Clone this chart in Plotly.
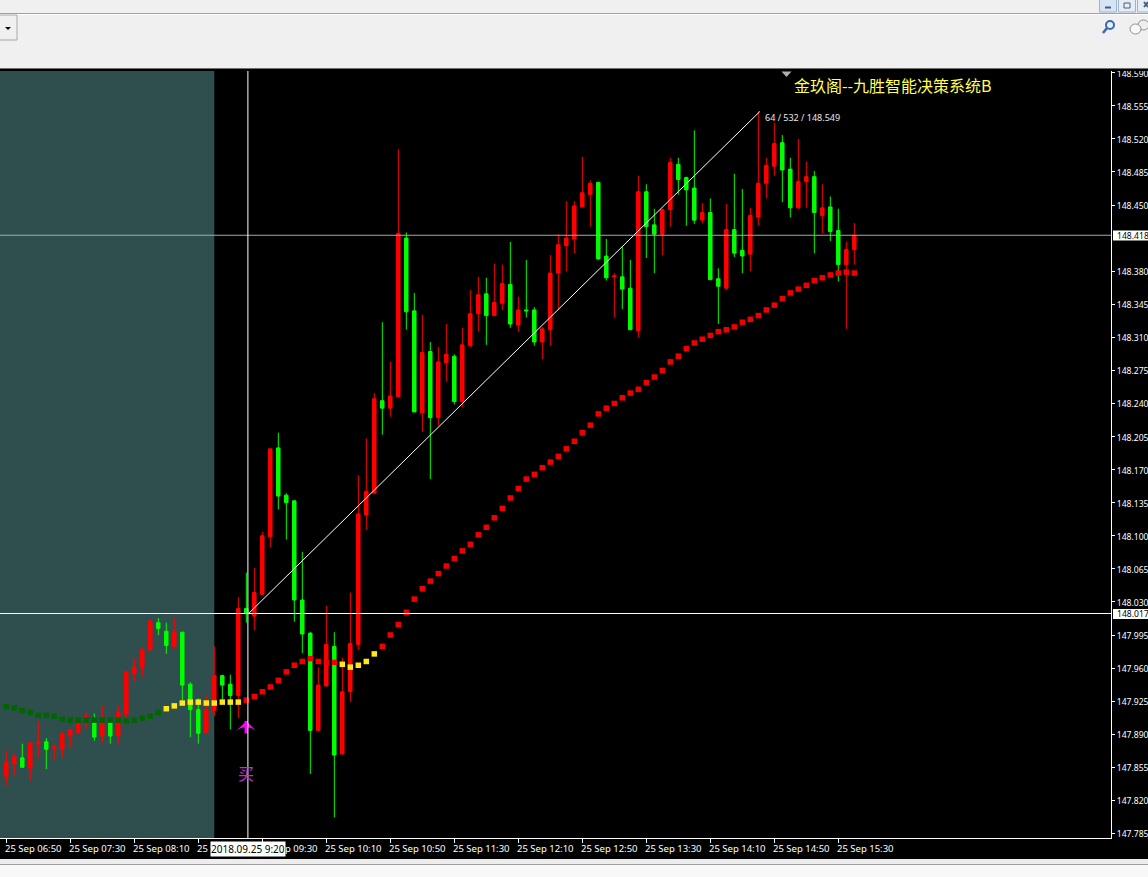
import plotly.graph_objects as go
import pandas as pd

START = "2018-09-25 06:50"

opens = [147.845,147.859,147.865,147.854,147.880,147.882,147.875,147.874,147.888,147.892,
147.907,147.902,147.888,147.902,147.889,147.911,147.954,147.960,147.979,148.008,
147.999,147.983,147.998,147.943,147.916,147.892,147.915,147.952,147.943,147.931,
148.023,148.015,148.038,148.099,148.193,148.143,148.137,148.032,147.997,147.894,
147.941,147.983,147.869,147.935,147.985,148.122,148.145,148.243,148.235,148.247,
148.415,148.338,148.230,148.295,148.225,148.283,148.290,148.242,148.301,148.335,
148.356,148.333,148.346,148.366,148.323,148.339,148.339,148.305,148.318,148.378,
148.407,148.414,148.448,148.461,148.474,148.396,148.374,148.374,148.362,148.317,
148.464,148.429,148.419,148.445,148.493,148.479,148.468,148.434,148.442,148.372,
148.362,148.424,148.402,148.398,148.437,148.473,148.491,148.516,148.488,148.447,
148.475,148.480,148.439,148.448,148.423,148.387,148.403]

highs = [147.873,147.870,147.880,147.881,147.903,147.886,147.879,147.892,147.896,147.903,
147.913,147.912,147.920,147.907,147.920,147.957,147.971,147.981,148.011,148.013,
148.008,148.013,147.998,147.945,147.928,147.931,147.983,147.953,147.953,148.035,
148.061,148.066,148.104,148.192,148.209,148.145,148.137,148.083,147.998,147.961,
148.026,147.998,147.971,148.040,148.164,148.203,148.251,148.326,148.284,148.509,
148.421,148.357,148.334,148.305,148.300,148.324,148.292,148.320,148.360,148.374,
148.373,148.388,148.387,148.411,148.353,148.392,148.342,148.321,148.397,148.419,
148.454,148.454,148.501,148.476,148.474,148.414,148.378,148.406,148.392,148.481,
148.472,148.446,148.446,148.500,148.500,148.480,148.529,148.452,148.457,148.383,
148.451,148.483,148.467,148.447,148.549,148.500,148.537,148.524,148.500,148.520,
148.496,148.486,148.472,148.459,148.446,148.411,148.431]

lows = [147.835,147.847,147.855,147.841,147.865,147.853,147.863,147.865,147.876,147.890,
147.896,147.883,147.881,147.880,147.880,147.907,147.946,147.951,147.979,147.995,
147.975,147.980,147.926,147.887,147.880,147.891,147.909,147.924,147.895,147.907,
148.008,148.000,148.038,148.088,148.128,148.096,148.009,147.976,147.848,147.894,
147.941,147.802,147.869,147.924,147.979,148.106,148.145,148.207,148.226,148.247,
148.318,148.231,148.210,148.160,148.217,148.263,148.239,148.236,148.300,148.316,
148.302,148.333,148.339,148.320,148.316,148.331,148.301,148.287,148.301,148.339,
148.380,148.399,148.448,148.427,148.392,148.370,148.331,148.340,148.318,148.310,
148.394,148.378,148.397,148.427,148.461,148.428,148.430,148.431,148.371,148.324,
148.360,148.395,148.378,148.380,148.428,148.457,148.481,148.453,148.437,148.446,
148.447,148.399,148.420,148.412,148.369,148.319,148.387]

closes = [147.860,147.866,147.855,147.881,147.882,147.874,147.877,147.891,147.895,147.902,
147.909,147.887,147.902,147.888,147.913,147.956,147.961,147.980,148.010,148.002,
147.984,147.998,147.942,147.916,147.891,147.916,147.952,147.942,147.931,148.023,
148.018,148.040,148.100,148.192,148.142,148.135,148.032,147.996,147.894,147.942,
147.985,147.868,147.935,147.986,148.123,148.147,148.245,148.235,148.248,148.420,
148.337,148.231,148.294,148.225,148.284,148.292,148.242,148.302,148.335,148.355,
148.333,148.347,148.367,148.324,148.339,148.338,148.305,148.319,148.378,148.408,
148.415,148.449,148.463,148.473,148.393,148.373,148.375,148.361,148.318,148.464,
148.427,148.419,148.445,148.495,148.477,148.466,148.434,148.442,148.371,148.364,
148.424,148.399,148.396,148.439,148.473,148.492,148.515,148.487,148.447,148.475,
148.480,148.442,148.447,148.422,148.387,148.403,148.418]

indicator = [147.919,147.918,147.915,147.913,147.910,147.910,147.909,147.906,147.905,147.905,
147.905,147.905,147.905,147.905,147.905,147.904,147.905,147.907,147.909,147.913,
147.917,147.920,147.923,147.924,147.924,147.923,147.923,147.924,147.924,147.924,
147.926,147.930,147.935,147.940,147.947,147.956,147.963,147.967,147.970,147.967,
147.966,147.966,147.964,147.961,147.963,147.967,147.975,147.983,147.995,148.006,
148.019,148.033,148.044,148.052,148.060,148.068,148.076,148.084,148.091,148.101,
148.109,148.119,148.129,148.140,148.150,148.160,148.165,148.172,148.178,148.184,
148.192,148.200,148.209,148.217,148.229,148.235,148.240,148.246,148.251,148.255,
148.262,148.268,148.275,148.284,148.290,148.298,148.304,148.308,148.312,148.316,
148.318,148.321,148.326,148.329,148.333,148.339,148.344,148.351,148.357,148.361,
148.365,148.370,148.373,148.376,148.378,148.379,148.378]

# number of consecutive dots per colour state
segment_lengths = [20, 10, 12, 5, 60]
segment_colors = ["#006400", "#FFE81A", "#F00000", "#FFE81A", "#F00000"]

# 148.415 is hidden behind the current-price label in the reference
y_ticks = ["147.785","147.820","147.855","147.890","147.925","147.960","147.995","148.030",
"148.065","148.100","148.135","148.170","148.205","148.240","148.275","148.310","148.345",
"148.380","148.450","148.485","148.520","148.555","148.590"]

x_tick_times = ["06:50","07:30","08:10","08:50","09:30","10:10","10:50","11:30","12:10",
"12:50","13:30","14:10","14:50","15:30"]

cross_time = "2018-09-25 09:21"
cross_price = 148.017
bid_price = 148.418
shaded_end = "2018-09-25 09:00"
trend_x = ["2018-09-25 09:21", "2018-09-25 14:41"]
trend_y = [148.017, 148.549]
buy_time = "2018-09-25 09:20"
buy_arrow_top = 147.904
buy_arrow_bottom = 147.891
buy_text_price = 147.849
title_text = "金玖阁--九胜智能决策系统B"
trend_text = "64 / 532 / 148.549"
cursor_text = "2018.09.25 9:20"

times = pd.date_range(START, periods=len(opens), freq="5min")
dot_colors = [c for n, c in zip(segment_lengths, segment_colors) for _ in range(n)]

W, H = 1148, 877
L, R, T, B = 0, 1111, 71, 838
px = lambda x: (x - L) / (R - L)
py = lambda y: (B - y) / (B - T)

fig = go.Figure()
fig.add_trace(go.Candlestick(
    x=times, open=opens, high=highs, low=lows, close=closes,
    increasing=dict(line=dict(color="#FF0000", width=1), fillcolor="#FF0000"),
    decreasing=dict(line=dict(color="#00FF00", width=1), fillcolor="#00FF00"),
    whiskerwidth=0, showlegend=False, hoverinfo="skip"))
fig.add_trace(go.Scatter(x=trend_x, y=trend_y, mode="lines",
    line=dict(color="#FFFFFF", width=1), showlegend=False, hoverinfo="skip"))
fig.add_trace(go.Scatter(x=times, y=indicator, mode="markers",
    marker=dict(symbol="square", size=5.5, color=dot_colors, line=dict(width=0)),
    showlegend=False, hoverinfo="skip"))
# buy arrow: stem plus head
fig.add_trace(go.Scatter(x=[buy_time, buy_time], y=[buy_arrow_top, buy_arrow_bottom], mode="lines",
    line=dict(color="#FF00FF", width=3.5), showlegend=False, hoverinfo="skip"))
fig.add_trace(go.Scatter(x=[buy_time], y=[buy_arrow_top], mode="markers",
    marker=dict(symbol="arrow-wide", size=15, color="#FF00FF", line=dict(width=0)),
    showlegend=False, hoverinfo="skip"))

def rect(x0, y0, x1, y1, fill, line=None, layer="above"):
    fig.add_shape(type="rect", xref="paper", yref="paper", x0=px(x0), x1=px(x1), y0=py(y0), y1=py(y1),
                  fillcolor=fill, line=dict(color=line or fill, width=1 if line else 0), layer=layer)

def seg(x0, y0, x1, y1, color, width=1):
    fig.add_shape(type="line", xref="paper", yref="paper", x0=px(x0), x1=px(x1), y0=py(y0), y1=py(y1),
                  line=dict(color=color, width=width))

def ell(x0, y0, x1, y1, fill, line, width=1):
    fig.add_shape(type="circle", xref="paper", yref="paper", x0=px(x0), x1=px(x1), y0=py(y0), y1=py(y1),
                  fillcolor=fill, line=dict(color=line, width=width))

# shaded history area and cross-hair lines
fig.add_shape(type="rect", xref="x", yref="paper", x0=times[0] - pd.Timedelta(minutes=10), x1=shaded_end,
              y0=0, y1=1, fillcolor="#2F4F4F", line=dict(width=0), layer="below")
fig.add_shape(type="line", xref="paper", yref="y", x0=0, x1=1, y0=bid_price, y1=bid_price,
              line=dict(color="#A8A8A8", width=1))
seg(0, 613.5, R, 613.5, "#FFFFFF")
fig.add_shape(type="line", xref="x", yref="paper", x0=cross_time, x1=cross_time, y0=0, y1=1,
              line=dict(color="#FFFFFF", width=1))

# window chrome
rect(0, 0, W, 68, "#F0F0F0")
seg(0, 13.5, W, 13.5, "#A0A0A0")
seg(0, 14.5, W, 14.5, "#FFFFFF")
seg(0, 68.5, W, 68.5, "#707070")
rect(0, 69, W, 71, "#000000")
rect(-2, 15, 17, 40, "#F0F0F0", "#A8A8A8")
fig.add_shape(type="path", xref="paper", yref="paper", fillcolor="#000000", line=dict(width=0),
              path=f"M {px(5)} {py(27)} L {px(11)} {py(27)} L {px(8)} {py(30)} Z")
rect(1099.5, -2, 1116.5, 12, "#D6E4F5", "#9EB4CC")
rect(1118.5, -2, 1135.5, 12, "#E4ECF6", "#9EB4CC")
rect(1137.5, -2, 1150, 12, "#E4ECF6", "#9EB4CC")
seg(1105, 7.5, 1111, 7.5, "#4A5C78", 2)
rect(1124, 3, 1130, 8, "rgba(0,0,0,0)", "#4A5C78")
seg(1144, 2, 1148, 7, "#4A5C78", 2)
seg(1144, 7, 1148, 2, "#4A5C78", 2)
ell(1106, 21, 1114, 29, "#E8F0FA", "#3A66B8", 2)
seg(1107, 28, 1103, 33, "#3A66B8", 2.5)
ell(1138, 20, 1149, 30, "#EEEEEE", "#909090")
ell(1130, 24, 1141, 34, "#F8F8F8", "#909090")
rect(0, 859, W, 864, "#EDEDED")
rect(0, 864, W, 865, "#A0A0A0")
rect(0, 865, W, H, "#F8F8F8")
# price labels on the scale
rect(1113, 230.5, W, 240.5, "#FFFFFF")
rect(1113, 609, W, 619, "#FFFFFF")
# one-click-panel marker
fig.add_shape(type="path", xref="paper", yref="paper", fillcolor="#B0B0B0", line=dict(width=0),
              path=f"M {px(781.5)} {py(71.5)} L {px(791.5)} {py(71.5)} L {px(786.5)} {py(77)} Z")

FONT = "Noto Sans"
ann = []
for t in x_tick_times:
    ann.append(dict(x=f"2018-09-25 {t}", y=0, xref="x", yref="paper", text=f"25 Sep {t}",
                    showarrow=False, xanchor="left", yanchor="top", xshift=-3, yshift=-2,
                    font=dict(family=FONT, size=9.5, color="#FFFFFF")))
ann.append(dict(x=cross_time, y=0, xref="x", yref="paper", text=cursor_text, showarrow=False,
                xanchor="center", yanchor="top", yshift=-3, bgcolor="#FFFFFF", borderpad=0,
                font=dict(family=FONT, size=10, color="#000000")))
for v, yy in ((f"{bid_price:.3f}", 236), (f"{cross_price:.3f}", 614)):
    ann.append(dict(x=px(1116), y=py(yy), xref="paper", yref="paper", text=v, showarrow=False,
                    xanchor="left", yanchor="middle", borderpad=0,
                    font=dict(family=FONT, size=8.6, color="#000000")))
ann.append(dict(x=px(793), y=py(85.5), xref="paper", yref="paper", text=title_text, showarrow=False,
                xanchor="left", yanchor="middle", borderpad=0,
                font=dict(family="Noto Sans CJK SC", size=16, color="#FFFF55")))
ann.append(dict(x=px(764), y=py(117), xref="paper", yref="paper", text=trend_text, showarrow=False,
                xanchor="left", yanchor="middle", borderpad=0,
                font=dict(family=FONT, size=9, color="#E8E8E8")))
ann.append(dict(x=buy_time, y=buy_text_price, xref="x", yref="y", text="买", showarrow=False,
                font=dict(family="Noto Sans CJK SC", size=16, color="#C030C0")))

fig.update_layout(
    width=W, height=H, margin=dict(l=L, r=W - R, t=T, b=H - B, pad=0, autoexpand=False),
    paper_bgcolor="#000000", plot_bgcolor="#000000", boxgap=0.38, showlegend=False,
    annotations=ann, hovermode=False,
    xaxis=dict(type="date", range=["2018-09-25 06:46:04", "2018-09-25 18:20:26"],
               rangeslider=dict(visible=False), showgrid=False, zeroline=False,
               showline=True, linecolor="#FFFFFF", linewidth=1, mirror=True,
               tickmode="array", tickvals=[f"2018-09-25 {t}" for t in x_tick_times],
               ticks="outside", ticklen=4, tickcolor="#FFFFFF", showticklabels=False),
    yaxis=dict(side="right", range=[147.7802, 148.5918], showgrid=False, zeroline=False,
               showline=True, linecolor="#FFFFFF", linewidth=1,
               tickmode="array", tickvals=[float(v) for v in y_ticks], ticktext=y_ticks,
               ticks="outside", ticklen=3, tickcolor="#FFFFFF", ticklabelshift=1,
               tickfont=dict(family=FONT, size=8.6, color="#FFFFFF")),
)

fig.write_html("out.html", config=dict(displayModeBar=False),
               post_script="document.body.style.margin='0';document.body.style.overflow='hidden';")
